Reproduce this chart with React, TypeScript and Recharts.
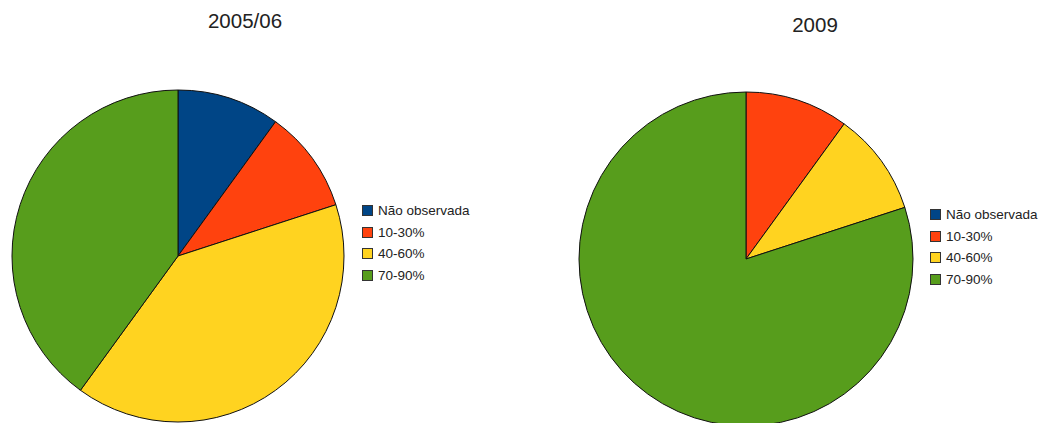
import React from "react";
import { PieChart, Pie, Cell } from "recharts";

const categories = ["Não observada", "10-30%", "40-60%", "70-90%"];
const colors = ["#004586", "#FF420E", "#FFD320", "#579D1C"];
const values2005 = [10, 10, 40, 40];
const values2009 = [0, 10, 10, 80];
const titles = ["2005/06", "2009"];

const data2005 = categories.map((name, i) => ({ name, value: values2005[i] }));
const data2009 = categories.map((name, i) => ({ name, value: values2009[i] }));

const fontFamily = "'Liberation Sans', Arial, sans-serif";

function Legend({ left, top }: { left: number; top: number }) {
  return (
    <div style={{ position: "absolute", left, top, fontFamily, fontSize: 13.5, color: "#222" }}>
      {categories.map((c, i) => (
        <div key={c} style={{ display: "flex", alignItems: "center", height: 21.5 }}>
          <div
            style={{
              width: 9,
              height: 9,
              background: colors[i],
              border: "1px solid #333",
              marginRight: 5,
            }}
          />
          <span>{c}</span>
        </div>
      ))}
    </div>
  );
}

export default function App() {
  return (
    <div style={{ position: "absolute", left: 0, top: 0, width: 1047, height: 423, background: "#fff", overflow: "hidden" }}>
      <PieChart width={1047} height={423} margin={{ top: 0, right: 0, bottom: 0, left: 0 }} style={{ position: "absolute", left: 0, top: 0 }}>
        <Pie
          data={data2005}
          dataKey="value"
          cx={178}
          cy={256}
          outerRadius={166}
          startAngle={90}
          endAngle={-270}
          stroke="#111"
          strokeWidth={1}
          isAnimationActive={false}
        >
          {data2005.map((d, i) => (
            <Cell key={d.name} fill={colors[i]} />
          ))}
        </Pie>
        <Pie
          data={data2009}
          dataKey="value"
          cx={746}
          cy={259}
          outerRadius={167}
          startAngle={90}
          endAngle={-270}
          stroke="#111"
          strokeWidth={1}
          isAnimationActive={false}
        >
          {data2009.map((d, i) => (
            <Cell key={d.name} fill={colors[i]} />
          ))}
        </Pie>
      </PieChart>
      <div style={{ position: "absolute", left: 195, top: 9, width: 100, textAlign: "center", fontFamily, fontSize: 20.5, color: "#222" }}>
        {titles[0]}
      </div>
      <div style={{ position: "absolute", left: 765, top: 13, width: 100, textAlign: "center", fontFamily, fontSize: 20.5, color: "#222" }}>
        {titles[1]}
      </div>
      <Legend left={362} top={200} />
      <Legend left={930} top={204} />
    </div>
  );
}
